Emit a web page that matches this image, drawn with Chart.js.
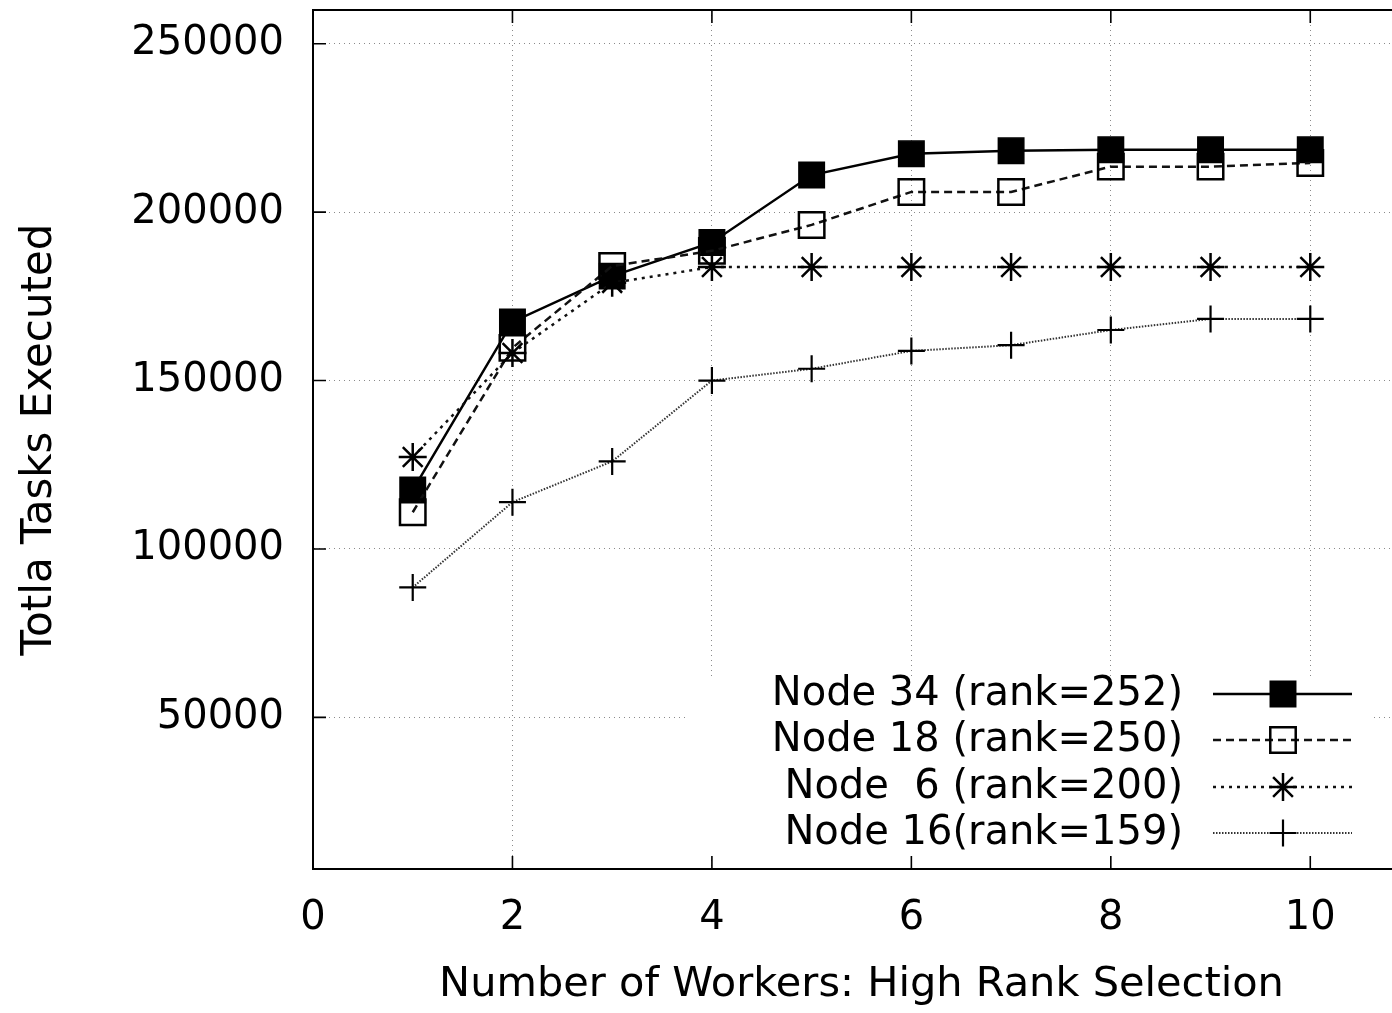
<!DOCTYPE html>
<html>
<head>
<meta charset="utf-8">
<title>Totla Tasks Executed</title>
<script src="https://cdn.jsdelivr.net/npm/chart.js@4/dist/chart.umd.min.js"></script>
<style>
  html, body { margin: 0; padding: 0; background: #fff; overflow: hidden; }
  #wrap { width: 1420px; height: 1013px; }
</style>
</head>
<body>
<div id="wrap"><canvas id="c" width="1420" height="1013"></canvas></div>
<script>
// Number of workers on the x axis
const workers = [1, 2, 3, 4, 5, 6, 7, 8, 9, 10];

// Total tasks executed per node
const node34 = [117500, 167400, 181000, 191000, 211000, 217300, 218200, 218500, 218500, 218500];
const node18 = [110900, 159700, 184000, 188500, 196200, 206000, 206000, 213500, 213500, 214600];
const node6  = [127300, 158200, 179000, 183700, 183700, 183700, 183700, 183700, 183700, 183700];
const node16 = [88600, 113900, 126000, 150000, 153500, 158800, 160500, 165000, 168300, 168300];

const seriesLabels = ['Node 34 (rank=252)', 'Node 18 (rank=250)', 'Node  6 (rank=200)', 'Node 16(rank=159)'];

// Axis ticks
const xTicks = [0, 2, 4, 6, 8, 10];
const yTicks = [50000, 100000, 150000, 200000, 250000];

const FONT = 'DejaVu Sans';

function pts(values) {
  return workers.map((w, i) => ({ x: w, y: values[i] }));
}

const datasets = [
  {
    label: seriesLabels[0], data: pts(node34),
    borderColor: '#000', borderWidth: 2.5, borderDash: [],
    pointStyle: 'rect', pointRadius: 18, pointBackgroundColor: '#000',
    pointBorderColor: '#000', pointBorderWidth: 1.5
  },
  {
    label: seriesLabels[1], data: pts(node18),
    borderColor: '#111', borderWidth: 2.5, borderDash: [8, 5],
    pointStyle: 'rect', pointRadius: 18, pointBackgroundColor: 'rgba(0,0,0,0)',
    pointBorderColor: '#000', pointBorderWidth: 2.5
  },
  {
    label: seriesLabels[2], data: pts(node6),
    borderColor: '#111', borderWidth: 2.5, borderDash: [3, 5],
    pointStyle: 'star', pointRadius: 14, pointBackgroundColor: 'rgba(0,0,0,0)',
    pointBorderColor: '#000', pointBorderWidth: 2.5
  },
  {
    label: seriesLabels[3], data: pts(node16),
    borderColor: '#333', borderWidth: 2, borderDash: [1.5, 1.5],
    pointStyle: 'cross', pointRadius: 13.5, pointBackgroundColor: 'rgba(0,0,0,0)',
    pointBorderColor: '#000', pointBorderWidth: 2.2
  }
];
datasets.forEach((d, i) => { d.tension = 0; d.fill = false; d.order = datasets.length - i; });

// Frame, inward tick marks and the opaque key box
const framePlugin = {
  id: 'frame',
  beforeDatasetsDraw(chart) {
    const ctx = chart.ctx;
    const a = chart.chartArea;
    const xs = chart.scales.x, ys = chart.scales.y;
    ctx.save();

    // key background
    ctx.fillStyle = '#fff';
    ctx.fillRect(688, 678, 684, 178);

    ctx.strokeStyle = '#000';
    ctx.setLineDash([]);
    ctx.lineWidth = 2;
    ctx.beginPath();
    ctx.moveTo(a.left, a.top); ctx.lineTo(a.right, a.top);
    ctx.moveTo(a.right, a.top); ctx.lineTo(a.right, a.bottom);
    ctx.stroke();

    const tl = 13;
    ctx.lineWidth = 1.6;
    ctx.beginPath();
    yTicks.forEach(v => {
      const y = ys.getPixelForValue(v);
      ctx.moveTo(a.left, y); ctx.lineTo(a.left + tl, y);
      ctx.moveTo(a.right, y); ctx.lineTo(a.right - tl, y);
    });
    xTicks.forEach(v => {
      const x = xs.getPixelForValue(v);
      ctx.moveTo(x, a.bottom); ctx.lineTo(x, a.bottom - tl);
      ctx.moveTo(x, a.top); ctx.lineTo(x, a.top + tl);
    });
    ctx.stroke();
    ctx.restore();
  },
  afterDatasetsDraw(chart) {
    // key entries: text on the left, line sample with marker on the right
    const ctx = chart.ctx;
    ctx.save();
    const rowY = [694, 740, 787, 833];
    const textRight = 1183, lineL = 1213, lineR = 1352, markX = 1283;
    chart.data.datasets.forEach((d, i) => {
      const y = rowY[i];
      ctx.fillStyle = '#000';
      ctx.font = '40px "' + FONT + '"';
      ctx.textAlign = 'right';
      ctx.textBaseline = 'alphabetic';
      ctx.fillText(d.label, textRight, y + 11);

      ctx.strokeStyle = d.borderColor;
      ctx.lineWidth = d.borderWidth;
      ctx.setLineDash(d.borderDash);
      ctx.beginPath();
      ctx.moveTo(lineL, y); ctx.lineTo(lineR, y);
      ctx.stroke();

      ctx.setLineDash([]);
      ctx.strokeStyle = d.pointBorderColor;
      ctx.fillStyle = d.pointBackgroundColor;
      ctx.lineWidth = d.pointBorderWidth;
      Chart.helpers.drawPoint(ctx, {
        pointStyle: d.pointStyle, radius: d.pointRadius, rotation: 0,
        borderWidth: d.pointBorderWidth
      }, markX, y);
    });
    ctx.restore();
  }
};

new Chart(document.getElementById('c'), {
  type: 'line',
  data: { datasets },
  options: {
    responsive: false,
    animation: false,
    devicePixelRatio: 1,
    layout: { autoPadding: false, padding: { left: 0, top: 10, right: 10, bottom: 0 } },
    plugins: { legend: { display: false }, tooltip: { enabled: false } },
    scales: {
      x: {
        type: 'linear', min: 0, max: 11,
        afterBuildTicks: s => { s.ticks = xTicks.map(v => ({ value: v })); },
        afterFit: s => { s.height = 144; s.paddingLeft = 0; s.paddingRight = 0; },
        grid: { color: '#8a8a8a', lineWidth: 1, drawTicks: false },
        border: { display: true, color: '#000', width: 2, dash: [1, 4] },
        ticks: {
          color: '#000', padding: 26, font: { family: FONT, size: 40 },
          callback: v => String(v), maxRotation: 0, autoSkip: false
        },
        title: {
          display: true, text: 'Number of Workers: High Rank Selection',
          color: '#000', font: { family: FONT, size: 41.5 }, padding: { top: 0, bottom: 3 }
        }
      },
      y: {
        type: 'linear', min: 5000, max: 260000,
        afterBuildTicks: s => { s.ticks = yTicks.map(v => ({ value: v })); },
        afterFit: s => { s.width = 313; s.paddingTop = 0; s.paddingBottom = 0; },
        grid: { color: '#8a8a8a', lineWidth: 1, drawTicks: false },
        border: { display: true, color: '#000', width: 2, dash: [1, 4] },
        ticks: {
          color: '#000', padding: 29, font: { family: FONT, size: 40 },
          callback: v => String(v), autoSkip: false
        },
        title: {
          display: true, text: 'Totla Tasks Executed',
          color: '#000', font: { family: FONT, size: 42 }, padding: { top: 15, bottom: 0 }
        }
      }
    }
  },
  plugins: [framePlugin]
});
</script>
</body>
</html>
